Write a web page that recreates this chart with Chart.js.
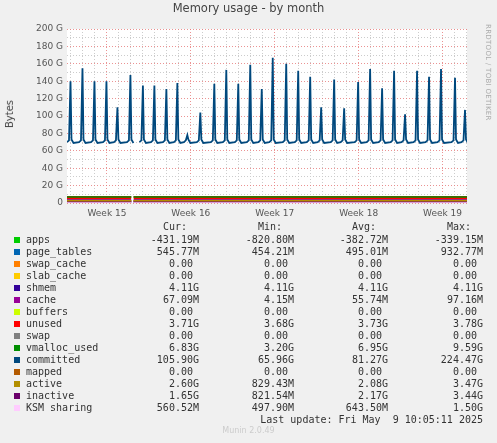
<!DOCTYPE html>
<html><head><meta charset="utf-8">
<script src="https://cdn.jsdelivr.net/npm/chart.js@4"></script>
<style>
body{margin:0;background:#f0f0f0;width:497px;height:443px;overflow:hidden;position:relative;font-family:"DejaVu Sans",sans-serif}
#wrap{position:absolute;left:0;top:0;width:497px;height:225px}
.t{position:absolute;white-space:pre;font:10px "DejaVu Sans Mono",monospace;color:#333}
.sw{position:absolute;width:6px;height:6px}
</style></head><body>
<div id="wrap"><canvas id="c"></canvas></div>
<div style="position:absolute;left:0;width:497px;top:1px;text-align:center;font-size:11.5px;color:#444">Memory usage - by month</div>
<div style="position:absolute;left:4px;top:100px;writing-mode:vertical-rl;transform:rotate(180deg);font-size:10px;color:#444">Bytes</div>
<div style="position:absolute;left:484px;top:24px;writing-mode:vertical-rl;font-size:7px;color:#aaa;letter-spacing:0.3px">RRDTOOL / TOBI OETIKER</div>
<div id="legend"></div>
<script>
// hours since left edge of the plot
const spikeHours = [7,31,55,79,101,127,152,175,199,221,241,267,295,319,343,367,390,412,439,463,487,509,535,555,583,607,631,655,677,701,725,749,777,797];
const spikePeaks = [140,155,140,140,110,147,135,135,131,138,78,104,137,153,137,159,131,167,160,152,145,110,142,109,139,154,132,152,102,152,145,154,144,107];
const gapStart = 129, gapEnd = 133;
const committedBase = 69;
const weekLabels = ['Week 15','Week 16','Week 17','Week 18','Week 19'];
const weekHours = [80,248,416,584,752];
const yLabels = ['0','20 G','40 G','60 G','80 G','100 G','120 G','140 G','160 G','180 G','200 G'];

// stacked areas (G) and low lines
const stackNames = ['page_tables','shmem','cache','unused'];
const stackVals = [0.55,4.11,0.07,3.71];
const stackCols = ['#0066b3','#330099','#990099','#ff0000'];
const appsVal = -0.43;
const lowLines = {vmalloc_used:[6.83,'#008f00'], active:[2.6,'#b38f00'], inactive:[1.65,'#6b006b'], KSM:[0.56,'#ffccff']};

const legendRows = [
 ['apps','#00cc00','-431.19M','-820.80M','-382.72M','-339.15M'],
 ['page_tables','#0066b3','545.77M','454.21M','495.01M','932.77M'],
 ['swap_cache','#ff8000','0.00','0.00','0.00','0.00'],
 ['slab_cache','#ffcc00','0.00','0.00','0.00','0.00'],
 ['shmem','#330099','4.11G','4.11G','4.11G','4.11G'],
 ['cache','#990099','67.09M','4.15M','55.74M','97.16M'],
 ['buffers','#ccff00','0.00','0.00','0.00','0.00'],
 ['unused','#ff0000','3.71G','3.68G','3.73G','3.78G'],
 ['swap','#808080','0.00','0.00','0.00','0.00'],
 ['vmalloc_used','#008f00','6.83G','3.20G','6.95G','9.59G'],
 ['committed','#00487d','105.90G','65.96G','81.27G','224.47G'],
 ['mapped','#b35a00','0.00','0.00','0.00','0.00'],
 ['active','#b38f00','2.60G','829.43M','2.08G','3.47G'],
 ['inactive','#6b006b','1.65G','821.54M','2.17G','3.44G'],
 ['KSM sharing','#ffccff','560.52M','497.90M','643.50M','1.50G']
];

const xMax = 801;
function flat(v){return [{x:0,y:v},{x:gapStart,y:v},{x:gapStart+1,y:null},{x:gapEnd,y:v},{x:xMax,y:v}];}
const committed = [];
spikeHours.forEach((h,i)=>{
  if (i===6) committed.push({x:gapStart+1,y:null});
  committed.push({x:h-7,y:committedBase+1},{x:h-3,y:committedBase+3},{x:h,y:spikePeaks[i]},{x:h+2,y:committedBase+4},{x:h+6,y:committedBase});
});
const ds = [];
let acc = appsVal;
stackNames.forEach((n,i)=>{
  acc += stackVals[i];
  ds.push({label:n,data:flat(acc),backgroundColor:stackCols[i],fill:i===0?'origin':'-1',borderWidth:0,pointRadius:0,order:10-i});
});
Object.entries(lowLines).forEach(([n,[v,c]])=>ds.push({label:n,data:flat(v),borderColor:c,borderWidth:1.5,pointRadius:0,fill:false}));
ds.push({label:'committed',data:committed,borderColor:'#00487d',borderWidth:1.8,pointRadius:0,fill:false,tension:0});

const ticksX = [];
for (let h=8; h<xMax; h+=24) ticksX.push(h);

new Chart(document.getElementById('c'),{
  type:'line',
  data:{datasets:ds},
  options:{
    responsive:true,maintainAspectRatio:false,animation:false,
    layout:{padding:{top:29,right:30,left:0,bottom:0}},
    plugins:{legend:{display:false},tooltip:{enabled:false}},
    scales:{
      x:{type:'linear',min:0,max:xMax,
        afterBuildTicks:s=>{s.ticks=ticksX.map(v=>({value:v}));},
        afterFit:s=>{s.height=22;},
        grid:{color:c=>weekHours.includes(c.tick&&c.tick.value)?'rgba(230,120,120,0.8)':'#ccc',lineWidth:1,drawTicks:false},
        border:{dash:[1,2],display:false},
        ticks:{autoSkip:false,maxRotation:0,padding:5,color:'#555',font:{family:'DejaVu Sans',size:9},
          callback:v=>{const i=weekHours.indexOf(v);return i>=0?weekLabels[i]:'';}}
      },
      y:{min:0,max:200,
        afterBuildTicks:s=>{const t=[];for(let v=0;v<=200;v+=10)t.push({value:v});s.ticks=t;},
        afterFit:s=>{s.width=67;},
        grid:{color:c=>c.tick&&c.tick.value%20===0?'rgba(230,120,120,0.8)':'#ccc',drawTicks:false},
        border:{dash:[1,2],display:false},
        ticks:{autoSkip:false,padding:4,color:'#555',font:{family:'DejaVu Sans',size:9},
          callback:v=>v%20===0?yLabels[v/20]:''}
      }
    }
  },
  plugins:[{id:'bg',beforeDraw(ch){const a=ch.chartArea,g=ch.ctx;g.save();g.fillStyle='#fff';g.fillRect(a.left,a.top,a.width,a.height);g.restore();}}]
});

const L = document.getElementById('legend');
function txt(s,x,y,right,extra){const d=document.createElement('div');d.className='t';d.textContent=s;d.style.top=y+'px';
  if(right){d.style.right=(497-x)+'px';}else d.style.left=x+'px';if(extra)Object.assign(d.style,extra);L.appendChild(d);}
const colR = [199,294,388,483];
['Cur:','Min:','Avg:','Max:'].forEach((h,i)=>txt(h,colR[i]-12,221,true));
legendRows.forEach((r,i)=>{
  const y = 234 + i*12;
  const sw=document.createElement('div');sw.className='sw';sw.style.left='14px';sw.style.top=(y+3)+'px';sw.style.background=r[1];L.appendChild(sw);
  txt(r[0],26,y,false);
  for(let k=0;k<4;k++){const v=r[2+k];txt(v,colR[k]-(v==='0.00'?6:0),y,true);}
});
txt('Last update: Fri May  9 10:05:11 2025',483,414,true);
txt('Munin 2.0.49',0,426,false,{width:'497px',textAlign:'center',font:'8px "DejaVu Sans",sans-serif',color:'#ccc'});
</script>
</body></html>
